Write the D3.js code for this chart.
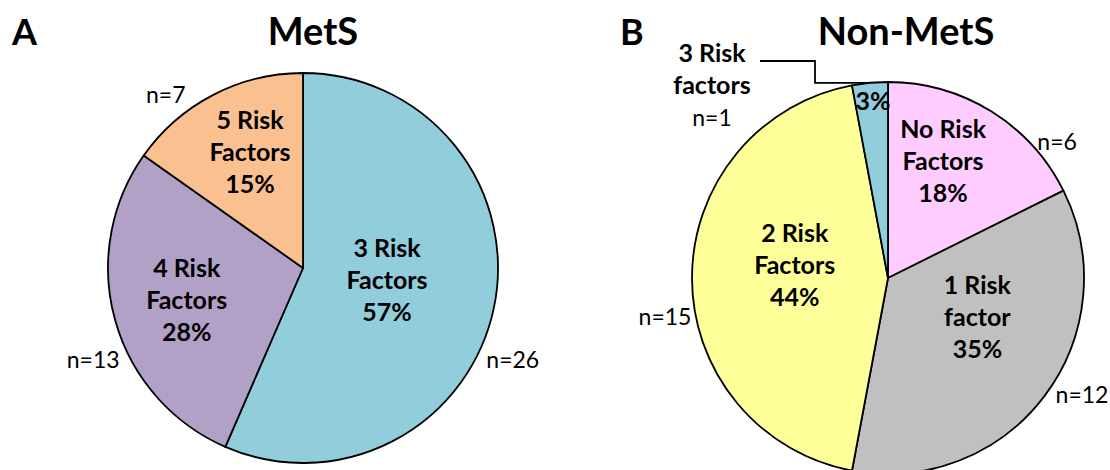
<!DOCTYPE html>
<html>
<head>
<meta charset="utf-8">
<script src="https://cdn.jsdelivr.net/npm/d3@7/dist/d3.min.js"></script>
<style>
  html, body { margin: 0; padding: 0; background: #fff; }
  svg { display: block; }
  text { font-family: Lato, "Open Sans", sans-serif; fill: #000; }
</style>
</head>
<body>
<svg id="chart" width="1110" height="470"></svg>
<script>
// Panel A: metabolic syndrome group
const metsCategories = ["3 Risk Factors", "4 Risk Factors", "5 Risk Factors"];
const metsLabelLines = [["3 Risk", "Factors"], ["4 Risk", "Factors"], ["5 Risk", "Factors"]];
const metsCounts = [26, 13, 7];
const metsColors = ["#92CDDC", "#B2A1C7", "#FAC090"];

// Panel B: non-metabolic syndrome group
const nonMetsCategories = ["No Risk Factors", "1 Risk factor", "2 Risk Factors", "3 Risk factors"];
const nonMetsLabelLines = [["No Risk", "Factors"], ["1 Risk", "factor"], ["2 Risk", "Factors"], ["3 Risk", "factors"]];
const nonMetsCounts = [6, 12, 15, 1];
const nonMetsColors = ["#FFCCFF", "#C0C0C0", "#FFFF99", "#92CDDC"];

// Layout: pie geometry and label placement (angle in degrees clockwise from 12 o'clock, radius as a fraction of pie radius)
const panels = [
  {
    letter: "A", title: "MetS", letterX: 12, titleX: 313,
    cx: 303, cy: 268, r: 195,
    categories: metsCategories, lines: metsLabelLines, counts: metsCounts, colors: metsColors,
    inner: [[98.8, 0.436], [254.1, 0.62], [335.3, 0.65]],
    outer: [[113.7, 1.175], [246.3, 1.175], [321.6, 1.133]],
    callout: null
  },
  {
    letter: "B", title: "Non-MetS", letterX: 620, titleX: 906,
    cx: 888, cy: 278, r: 196,
    categories: nonMetsCategories, lines: nonMetsLabelLines, counts: nonMetsCounts, colors: nonMetsColors,
    inner: [[25.5, 0.653], [114.2, 0.50], [277.6, 0.48], [355.1, 0.90]],
    outer: [[51.2, 1.107], [121.1, 1.156], [260.1, 1.155], null],
    // small slice labelled outside with a leader line
    callout: { index: 3, textX: 712, textY: 54, elbowX: 815, lineY: 61 }
  }
];

const svg = d3.select("#chart");
const LINE = 32;       // line spacing of the bold slice labels
const BASE = 8;        // baseline offset from visual centre

const pie = d3.pie().sort(null).value(d => d);

function polar(p, angleDeg, frac) {
  const a = angleDeg * Math.PI / 180;
  return [p.cx + Math.sin(a) * p.r * frac, p.cy - Math.cos(a) * p.r * frac];
}

panels.forEach(p => {
  const total = d3.sum(p.counts);
  const pct = p.counts.map(c => Math.round(c / total * 100) + "%");
  const arcs = pie(p.counts);
  const arc = d3.arc().innerRadius(0).outerRadius(p.r);

  // panel letter and title
  svg.append("text").attr("x", p.letterX).attr("y", 45)
    .attr("font-size", 36).attr("font-weight", 700).text(p.letter);
  svg.append("text").attr("x", p.titleX).attr("y", 45).attr("text-anchor", "middle")
    .attr("font-size", 38).attr("font-weight", 700).text(p.title);

  const g = svg.append("g").attr("transform", `translate(${p.cx},${p.cy})`);
  g.selectAll("path.slice").data(arcs).join("path")
    .attr("class", "slice")
    .attr("d", arc)
    .attr("fill", (d, i) => p.colors[i])
    .attr("stroke", "#000")
    .attr("stroke-width", 1.8)
    .attr("stroke-linejoin", "round");

  arcs.forEach((d, i) => {
    const isCallout = p.callout && p.callout.index === i;
    const [ix, iy] = polar(p, p.inner[i][0], p.inner[i][1]);
    const label = svg.append("text").attr("text-anchor", "middle")
      .attr("font-size", 25).attr("font-weight", 700);
    if (isCallout) {
      // only the percentage sits inside the thin slice
      label.append("tspan").attr("x", ix).attr("y", iy + BASE).text(pct[i]);
      const c = p.callout;
      p.lines[i].forEach((ln, k) => {
        svg.append("text").attr("text-anchor", "middle")
          .attr("x", c.textX).attr("y", c.textY + k * LINE + BASE)
          .attr("font-size", 25).attr("font-weight", 700).text(ln);
      });
      svg.append("text").attr("text-anchor", "middle")
        .attr("x", c.textX).attr("y", c.textY + 2 * LINE + BASE)
        .attr("font-size", 23).text("n=" + p.counts[i]);
      const mid = (d.startAngle + d.endAngle) / 2 * 180 / Math.PI;
      const [ex, ey] = polar(p, mid, 1);
      svg.append("path")
        .attr("d", d3.line()([[c.textX + 48, c.lineY], [c.elbowX, c.lineY], [c.elbowX, ey], [ex, ey]]))
        .attr("fill", "none").attr("stroke", "#000").attr("stroke-width", 1.8);
    } else {
      const rows = p.lines[i].concat([pct[i]]);
      rows.forEach((ln, k) => {
        label.append("tspan").attr("x", ix).attr("y", iy + (k - 1) * LINE + BASE).text(ln);
      });
      const [ox, oy] = polar(p, p.outer[i][0], p.outer[i][1]);
      svg.append("text").attr("text-anchor", "middle")
        .attr("x", ox).attr("y", oy + BASE)
        .attr("font-size", 23).text("n=" + p.counts[i]);
    }
  });
});
</script>
</body>
</html>
